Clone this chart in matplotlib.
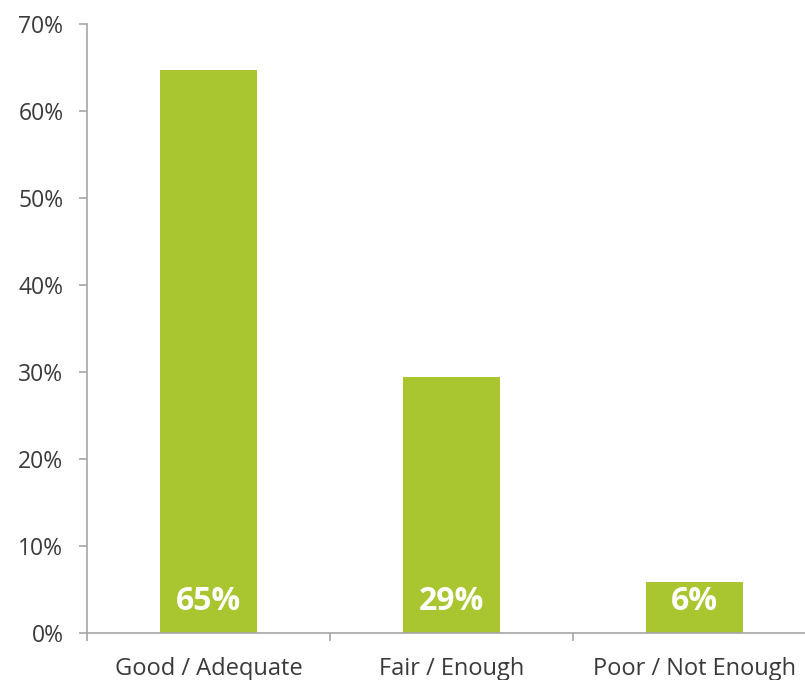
import matplotlib
matplotlib.use("Agg")
import matplotlib.pyplot as plt
from matplotlib.ticker import FixedLocator, PercentFormatter

categories = ["Good / Adequate", "Fair / Enough", "Poor / Not Enough"]
shares = [64.7, 29.4, 5.9]
bar_labels = ["65%", "29%", "6%"]
y_ticks = [0, 10, 20, 30, 40, 50, 60, 70]

GREEN = "#A9C52F"
AXIS = "#A6A6A6"
TEXT = "#3A3A3A"

plt.rcParams["font.family"] = ["Open Sans", "DejaVu Sans"]

fig = plt.figure(figsize=(8.05, 6.8), dpi=100)
ax = fig.add_axes([87 / 805, 47 / 680, 729 / 805, 609 / 680])

x = list(range(len(categories)))
ax.bar(x, shares, width=0.4, color=GREEN, zorder=2)
for xi, lab in zip(x, bar_labels):
    ax.text(xi, 1.7, lab, ha="center", va="bottom", color="white",
            fontsize=23, fontweight="bold", zorder=3)

ax.set_xlim(-0.5, len(categories) - 0.5)
ax.set_ylim(0, 70)
ax.set_yticks(y_ticks)
ax.yaxis.set_major_formatter(PercentFormatter(decimals=0))
ax.set_xticks(x)
ax.set_xticklabels(categories)
ax.xaxis.set_minor_locator(FixedLocator([i - 0.5 for i in range(len(categories) + 1)]))

for side in ("top", "right"):
    ax.spines[side].set_visible(False)
for side in ("left", "bottom"):
    ax.spines[side].set_color(AXIS)
    ax.spines[side].set_linewidth(1.2)

ax.tick_params(axis="y", colors=AXIS, labelcolor=TEXT, labelsize=16.5,
               length=6, width=1.2, pad=11)
ax.tick_params(axis="x", which="major", length=0, labelcolor=TEXT,
               labelsize=17, pad=17)
ax.tick_params(axis="x", which="minor", length=6, width=1.2, colors=AXIS)

fig.savefig("out.png", dpi=100)
